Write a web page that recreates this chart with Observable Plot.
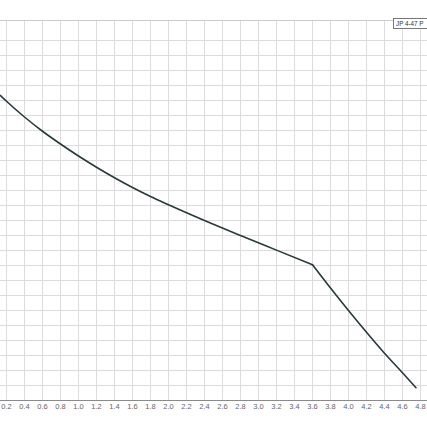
<!DOCTYPE html>
<html>
<head>
<meta charset="utf-8">
<script src="https://cdn.jsdelivr.net/npm/d3@7"></script>
<script src="https://cdn.jsdelivr.net/npm/@observablehq/plot@0.6"></script>
<style>
  html, body { margin: 0; padding: 0; background: #fff; }
  #wrap { position: relative; width: 427px; height: 430px; overflow: hidden; }
  #wrap svg { display: block; }
  #legend {
    position: absolute; left: 393px; top: 18px; height: 11px; width: 60px;
    border: 1px solid #777; background: #fff; box-sizing: border-box;
    font: 6.3px "Liberation Sans", Arial, sans-serif; color: #333;
    line-height: 9px; padding-left: 2px; white-space: nowrap;
  }
</style>
</head>
<body>
<div id="wrap"><div id="legend"></div></div>
<script>
// Flow (m³/h) and head (m)
const flowBeforeKnee = [0.13, 0.2, 0.4, 0.6, 0.8, 1.0, 1.2, 1.4, 1.6, 1.8, 2.0, 2.4, 2.8, 3.2, 3.6];
const headBeforeKnee = [40.7, 39.9, 37.8, 35.9, 34.2, 32.6, 31.1, 29.7, 28.4, 27.2, 26.1, 24.0, 22.0, 20.05, 18.1];
const flowAfterKnee = [3.6, 3.8, 4.0, 4.2, 4.4, 4.6, 4.75];
const headAfterKnee = [18.1, 15.0, 12.0, 9.1, 6.3, 3.7, 1.7];
const xTicks = [0.2, 0.4, 0.6, 0.8, 1.0, 1.2, 1.4, 1.6, 1.8, 2.0, 2.2, 2.4, 2.6, 2.8, 3.0, 3.2, 3.4, 3.6, 3.8, 4.0, 4.2, 4.4, 4.6, 4.8];
const yGrid = [2, 4, 6, 8, 10, 12, 14, 16, 18, 20, 22, 24, 26, 28, 30, 32, 34, 36, 38, 40, 42, 44, 46, 48];
const legendLabel = "JP 4-47 P";

const rows = [
  ...flowBeforeKnee.map((x, i) => ({x, y: headBeforeKnee[i], seg: "a"})),
  ...flowAfterKnee.map((x, i) => ({x, y: headAfterKnee[i], seg: "b"}))
];

const yTop = 48 * 380 / 360;

const chart = Plot.plot({
  width: 427,
  height: 430,
  marginLeft: 0,
  marginRight: 0,
  marginTop: 20,
  marginBottom: 30,
  style: { background: "#fff", fontFamily: "'Liberation Sans', Arial, sans-serif" },
  x: { domain: [0.2 - 6 / 90, 4.8 + 7 / 90], axis: null, label: null },
  y: { domain: [0, yTop], axis: null, label: null },
  marks: [
    Plot.ruleX(xTicks, { stroke: "#dcdcdc", strokeWidth: 1 }),
    Plot.ruleY(yGrid, { stroke: "#dcdcdc", strokeWidth: 1 }),
    Plot.ruleY([yTop], { stroke: "#cccccc", strokeWidth: 1 }),
    Plot.ruleY([0], { stroke: "#8a8a8a", strokeWidth: 1 }),
    Plot.axisX(xTicks, {
      tickSize: 0, tickPadding: 3, fontSize: 7.5, fill: "#666", label: null,
      tickFormat: d => d.toFixed(1)
    }),
    Plot.line(rows, {
      x: "x", y: "y", z: "seg", curve: "monotone-x",
      stroke: "#28393a", strokeWidth: 1.6
    })
  ]
});

const wrap = document.getElementById("wrap");
wrap.insertBefore(chart, wrap.firstChild);
document.getElementById("legend").textContent = legendLabel;
</script>
</body>
</html>
